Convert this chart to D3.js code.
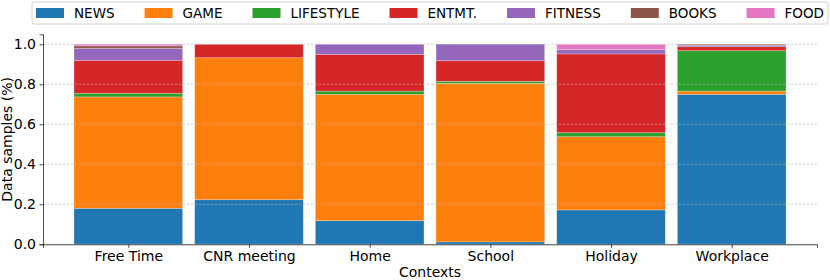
<!DOCTYPE html>
<html>
<head>
<meta charset="utf-8">
<script src="https://cdn.jsdelivr.net/npm/d3@7"></script>
<style>
  body { margin: 0; background: #fff; }
  text { font-family: "DejaVu Sans", sans-serif; fill: #000; }
</style>
</head>
<body>
<div id="chart"></div>
<script>
// contexts on the x axis
var contexts = ["Free Time", "CNR meeting", "Home", "School", "Holiday", "Workplace"];
var categories = ["NEWS", "GAME", "LIFESTYLE", "ENTMT.", "FITNESS", "BOOKS", "FOOD"];
var colors = ["#1f77b4", "#ff7f0e", "#2ca02c", "#d62728", "#9467bd", "#8c564b", "#e377c2"];

// share of samples per category, one value per context
var news      = [0.180, 0.223, 0.118, 0.012, 0.172, 0.750];
var game      = [0.557, 0.710, 0.632, 0.793, 0.366, 0.016];
var lifestyle = [0.018, 0.000, 0.016, 0.010, 0.020, 0.202];
var entmt     = [0.165, 0.067, 0.184, 0.103, 0.394, 0.020];
var fitness   = [0.060, 0.000, 0.050, 0.083, 0.021, 0.007];
var books     = [0.012, 0.000, 0.000, 0.000, 0.000, 0.005];
var food      = [0.008, 0.000, 0.000, 0.000, 0.027, 0.000];

var yTicks = [0, 0.2, 0.4, 0.6, 0.8, 1.0];

var series = [news, game, lifestyle, entmt, fitness, books, food];

var W = 830, H = 280;
var margin = {left: 43, right: 13, top: 34.3, bottom: 35.7};

var svg = d3.select("#chart").append("svg")
    .attr("width", W).attr("height", H);

var x = d3.scaleLinear().domain([-0.707, contexts.length - 1 + 0.707])
    .range([margin.left, W - margin.right]);
var y = d3.scaleLinear().domain([0, 1.05]).range([H - margin.bottom, margin.top]);
var barW = 0.9;

// build stacked rows
var rows = contexts.map(function(c, i) {
    var r = {context: c, i: i};
    categories.forEach(function(k, j) { r[k] = series[j][i]; });
    return r;
});
var stack = d3.stack().keys(categories)(rows);

var bars = svg.append("g");
stack.forEach(function(layer, j) {
    bars.selectAll(null).data(layer).enter().append("rect")
        .attr("x", function(d) { return x(d.data.i - barW / 2); })
        .attr("width", x(barW) - x(0))
        .attr("y", function(d) { return y(d[1]); })
        .attr("height", function(d) { return Math.max(0, y(d[0]) - y(d[1])); })
        .attr("fill", colors[j])
        .attr("stroke", function(d) { return d[1] - d[0] > 0 ? "rgba(255,255,255,0.3)" : "none"; })
        .attr("stroke-width", 0.8);
});

// grid on top of the bars
svg.append("g").selectAll("line").data(yTicks).enter().append("line")
    .attr("x1", margin.left).attr("x2", W - margin.right)
    .attr("y1", function(d) { return y(d); }).attr("y2", function(d) { return y(d); })
    .attr("stroke", "#b0b0b0").attr("stroke-opacity", 0.7)
    .attr("stroke-width", 0.8).attr("stroke-dasharray", "2.5,1.5");

// axes
var yAxis = svg.append("g").attr("transform", "translate(" + margin.left + ",0)")
    .call(d3.axisLeft(y).tickValues(yTicks).tickFormat(d3.format(".1f")).tickSize(3.5).tickPadding(3.5));
var xAxis = svg.append("g").attr("transform", "translate(0," + (H - margin.bottom) + ")")
    .call(d3.axisBottom(x).tickValues(d3.range(contexts.length)).tickFormat(function(i) { return contexts[i]; })
        .tickSize(3.5).tickPadding(3.5));
[yAxis, xAxis].forEach(function(a) {
    a.selectAll("text").style("font-size", "14px").style("font-family", "DejaVu Sans");
    a.selectAll("line, path").attr("stroke", "#222").attr("stroke-width", 0.8);
});

svg.append("text")
    .attr("transform", "translate(7," + ((margin.top + H - margin.bottom) / 2) + ") rotate(-90)")
    .attr("text-anchor", "middle").attr("dominant-baseline", "central")
    .style("font-size", "14px").text("Data samples (%)");
svg.append("text")
    .attr("x", (margin.left + W - margin.right) / 2).attr("y", 276.5)
    .attr("text-anchor", "middle").style("font-size", "14px").text("Contexts");

// legend, expanded across the top
var lg = svg.append("g");
var boxX = 32, boxW = 796, boxY = 2, boxH = 22;
lg.append("rect").attr("x", boxX).attr("y", boxY).attr("width", boxW).attr("height", boxH)
    .attr("rx", 2.5).attr("fill", "#fff").attr("stroke", "#d0d0d0").attr("stroke-width", 1);
var patchW = 28, gap = 10;
var items = categories.map(function(k, j) {
    var t = lg.append("text").style("font-size", "13.5px").attr("y", boxY + boxH / 2)
        .attr("dominant-baseline", "central").text(k);
    return {t: t, w: t.node().getComputedTextLength(), j: j};
});
var used = d3.sum(items, function(d) { return patchW + gap + d.w; });
var pad = 4;
var spacing = (boxW - 2 * pad - used) / (items.length - 1);
var cx = boxX + pad;
items.forEach(function(d) {
    lg.append("rect").attr("x", cx).attr("y", boxY + boxH / 2 - 5).attr("width", patchW).attr("height", 10)
        .attr("fill", colors[d.j]);
    d.t.attr("x", cx + patchW + gap);
    cx += patchW + gap + d.w + spacing;
});
</script>
</body>
</html>
